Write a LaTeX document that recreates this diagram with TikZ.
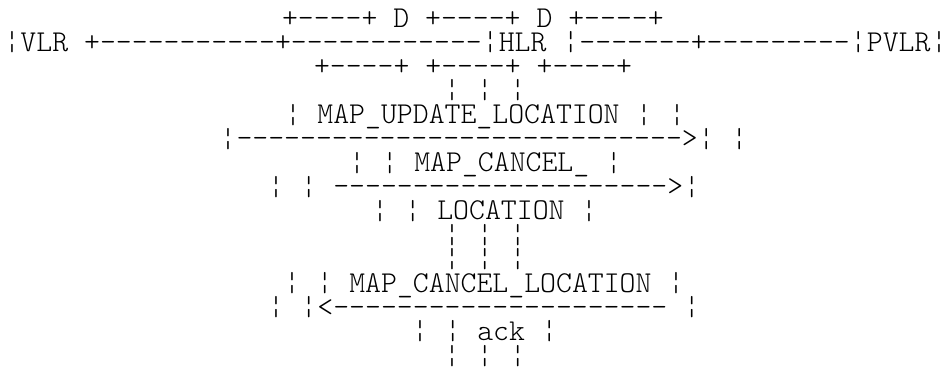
\documentclass[tikz,border=0pt]{standalone}
\usepackage{fontspec}
\newfontfamily\lightmono{Latin Modern Mono Light}
\newsavebox\barbox
\newcommand\bb{\sbox\barbox{\raisebox{\depth}{¦}}\makebox[17pt][c]{\raisebox{-2pt}{\resizebox{\wd\barbox}{21.5pt}{\usebox\barbox}}}}
\begin{document}
\begin{tikzpicture}[x=1pt,y=-1pt,
  asciirow/.style={anchor=base west, inner sep=0pt, outer sep=0pt,
    font=\lightmono\fontsize{30.3}{24}\selectfont}]
\useasboundingbox (0,0) rectangle (946,367);
\node[asciirow] (r1) at (282,27) {+----+ D +----+ D +----+};
\node[asciirow] (r2) at (3.5,51.1) {\bb VLR +-----------+------------\bb HLR \bb-------+---------\bb PVLR\bb};
\node[asciirow] (r3) at (314,75.2) {+----+ +----+ +----+};
\node[asciirow] (r4) at (443.5,99.3) {\bb{} \bb{} \bb};
\node[asciirow] (r5) at (284.5,123.4) {\bb{} MAP\_UPDATE\_LOCATION \bb{} \bb};
\node[asciirow] (r6) at (219.5,147.5) {\bb---------------------------->\bb{} \bb};
\node[asciirow] (r7) at (348.5,171.6) {\bb{} \bb{} MAP\_CANCEL\_ \bb};
\node[asciirow] (r8) at (267.5,195.7) {\bb{} \bb{} --------------------->\bb};
\node[asciirow] (r9) at (371.5,219.8) {\bb{} \bb{} LOCATION \bb};
\node[asciirow] (r10) at (443.5,243.9) {\bb{} \bb{} \bb};
\node[asciirow] (r11) at (443.5,268) {\bb{} \bb{} \bb};
\node[asciirow] (r12) at (283.5,292.1) {\bb{} \bb{} MAP\_CANCEL\_LOCATION \bb};
\node[asciirow] (r13) at (267.5,316.2) {\bb{} \bb<--------------------- \bb};
\node[asciirow] (r14) at (411.5,340.3) {\bb{} \bb{} ack \bb};
\node[asciirow] (r15) at (443.5,364.4) {\bb{} \bb{} \bb};
\end{tikzpicture}
\end{document}
